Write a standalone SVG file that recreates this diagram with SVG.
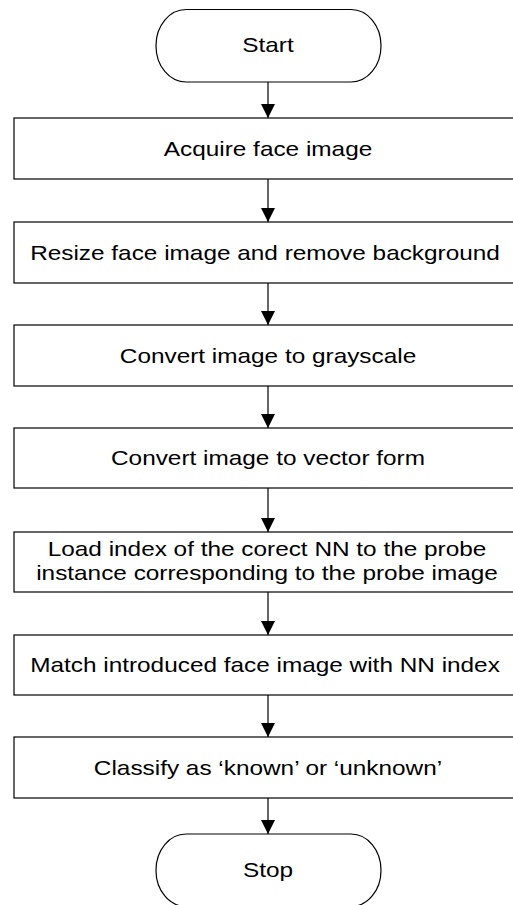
<svg xmlns="http://www.w3.org/2000/svg" width="513" height="905" viewBox="0 0 513 905">
<style>
.n{fill:#fff;stroke:#000;stroke-width:1.2}
.t{font-family:"Liberation Sans",Arial,sans-serif;font-size:21px;fill:#000;text-anchor:middle}
.c{stroke:#000;stroke-width:1.2;fill:none}
</style>
<defs>
<marker id="ah" markerWidth="14" markerHeight="14" refX="14" refY="7" orient="auto" markerUnits="userSpaceOnUse">
<path d="M0,0 L14,7 L0,14 Z" fill="#000"/>
</marker>
</defs>
<rect width="513" height="905" fill="#fff"/>
<g id="connectors">
<line class="c" x1="268" y1="82" x2="268" y2="118" marker-end="url(#ah)"/>
<line class="c" x1="268" y1="179" x2="268" y2="222" marker-end="url(#ah)"/>
<line class="c" x1="268" y1="283" x2="268" y2="325" marker-end="url(#ah)"/>
<line class="c" x1="268" y1="386" x2="268" y2="428" marker-end="url(#ah)"/>
<line class="c" x1="268" y1="488" x2="268" y2="532" marker-end="url(#ah)"/>
<line class="c" x1="268" y1="592" x2="268" y2="635" marker-end="url(#ah)"/>
<line class="c" x1="268" y1="695" x2="268" y2="737" marker-end="url(#ah)"/>
<line class="c" x1="268" y1="798" x2="268" y2="834" marker-end="url(#ah)"/>
</g>
<g id="start">
<rect class="n" x="156" y="9.5" width="225" height="72.5" rx="30" ry="36"/>
<text class="t" transform="translate(268,52) scale(1.16,1)">Start</text>
</g>
<g id="acquire">
<rect class="n" x="14" y="118" width="500" height="61"/>
<text class="t" transform="translate(268,155.5) scale(1.16,1)">Acquire face image</text>
</g>
<g id="resize">
<rect class="n" x="14" y="222" width="500" height="61"/>
<text class="t" transform="translate(265,259.5) scale(1.16,1)">Resize face image and remove background</text>
</g>
<g id="grayscale">
<rect class="n" x="14" y="325" width="500" height="61"/>
<text class="t" transform="translate(268,362.5) scale(1.16,1)">Convert image to grayscale</text>
</g>
<g id="vector">
<rect class="n" x="14" y="428" width="500" height="60"/>
<text class="t" transform="translate(268,465) scale(1.16,1)">Convert image to vector form</text>
</g>
<g id="load">
<rect class="n" x="14" y="532" width="500" height="60"/>
<text class="t" transform="translate(267,556) scale(1.16,1)">Load index of the corect NN to the probe</text>
<text class="t" transform="translate(267,580) scale(1.16,1)">instance corresponding to the probe image</text>
</g>
<g id="match">
<rect class="n" x="14" y="635" width="500" height="60"/>
<text class="t" transform="translate(265,672) scale(1.16,1)">Match introduced face image with NN index</text>
</g>
<g id="classify">
<rect class="n" x="14" y="737" width="500" height="61"/>
<text class="t" transform="translate(268,774.5) scale(1.16,1)">Classify as ‘known’ or ‘unknown’</text>
</g>
<g id="stop">
<rect class="n" x="156" y="834" width="225" height="72.5" rx="30" ry="36"/>
<text class="t" transform="translate(268,877) scale(1.16,1)">Stop</text>
</g>
</svg>
